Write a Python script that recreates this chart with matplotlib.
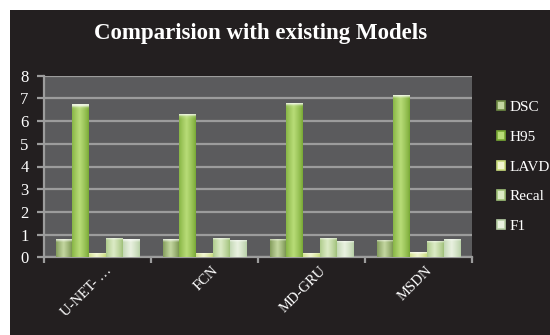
import numpy as np
import matplotlib
matplotlib.use("Agg")
import matplotlib.pyplot as plt
from matplotlib.patches import Rectangle, Patch
from matplotlib.colors import to_rgb

# model comparison scores
models = ["U-NET- \u2026", "FCN", "MD-GRU", "MSDN"]
metrics = ["DSC", "H95", "LAVD", "Recal", "F1"]
dsc = [0.79, 0.79, 0.81, 0.77]
h95 = [6.74, 6.31, 6.81, 7.16]
lavd = [0.20, 0.20, 0.18, 0.22]
recall = [0.86, 0.84, 0.84, 0.74]
f1 = [0.79, 0.77, 0.74, 0.81]
series = [dsc, h95, lavd, recall, f1]

# (edge colour, centre colour) for each metric's bars
shades = [("#6e8a44", "#c3d6a0"),
          ("#78a834", "#b8dc78"),
          ("#c9dc7c", "#f2f6d0"),
          ("#9fc078", "#dcebc6"),
          ("#b7cfa6", "#e9f1e0")]

plt.rcParams["font.family"] = ["Liberation Serif", "DejaVu Serif"]

fig = plt.figure(figsize=(5.5, 3.35), dpi=100)
fig.patch.set_facecolor("white")
fig.add_artist(Rectangle((10 / 550, 0), 1, 1 - 10 / 335, transform=fig.transFigure,
                         facecolor="#231f20", edgecolor="none", zorder=0))

ax = fig.add_axes([44 / 550, 1 - 257.3 / 335, 428 / 550, 181.6 / 335])
ax.set_facecolor("#5b5b5d")
ax.set_xlim(0, len(models))
ax.set_ylim(0, 8)

grid_c = "#9c9c9c"
ax.set_yticks(range(9))
ax.yaxis.grid(True, color=grid_c, linewidth=1.6)
ax.set_axisbelow(True)
for s in ["top", "right"]:
    ax.spines[s].set_visible(False)
for s in ["left", "bottom"]:
    ax.spines[s].set_color(grid_c)
    ax.spines[s].set_linewidth(1.6)

ax.set_xticks(range(len(models) + 1))
ax.set_xticklabels([])
ax.set_xticks(np.arange(len(models)) + 0.57, minor=True)
ax.set_xticklabels(models, minor=True, rotation=45, ha="right", va="top",
                   rotation_mode="anchor", color="white", fontsize=10.5)
ax.tick_params(axis="x", which="minor", length=0, pad=5)
ax.tick_params(axis="x", which="major", length=4, color=grid_c, width=1.6)
ax.tick_params(axis="y", length=5, color=grid_c, width=1.6, labelcolor="white",
               labelsize=12, pad=6)

# horizontal shading profile of a bar
xs = np.linspace(0, 1, 40)
profile = np.clip(1 - np.abs(xs - 0.45) / 0.55, 0, 1) ** 0.8

width = 0.154
offsets = (np.arange(len(metrics)) - 2) * (width + 0.003)
centers = np.arange(len(models)) + 0.5
for k, vals in enumerate(series):
    edge, mid = np.array(to_rgb(shades[k][0])), np.array(to_rgb(shades[k][1]))
    bars = ax.bar(centers + offsets[k], vals, width, color=edge, zorder=2,
                  edgecolor="none")
    for b, v in zip(bars, vals):
        ny = 60
        ys = np.linspace(0, 1, ny)[:, None]
        img = edge + profile[None, :, None] * (mid - edge)
        img = np.repeat(img, ny, axis=0)
        # bright bevel along the top of each bar
        cap = min(0.13 / v, 0.45)
        glow = np.clip((ys - (1 - cap)) / cap, 0, 1)[:, :, None]
        img = img + glow * 0.8 * (1 - img)
        x0 = b.get_x()
        im = ax.imshow(img, extent=[x0, x0 + width, 0, v], origin="lower",
                       aspect="auto", zorder=3, interpolation="bilinear")
        im.set_clip_path(b)

ax.set_xlim(0, len(models))
ax.set_ylim(0, 8)

fig.text(0.473, 0.899, "Comparision with existing Models", ha="center",
         va="center", color="white", fontsize=16.5, fontweight="bold",
         family=["Liberation Serif"])

handles = [Patch(facecolor=shades[k][1], edgecolor=shades[k][0], linewidth=1.2)
           for k in range(len(metrics))]
leg = fig.legend(handles, metrics, loc="upper left", bbox_to_anchor=(497 / 550, 1 - 101 / 335),
                 frameon=False, labelcolor="white", fontsize=11, handlelength=0.55,
                 handleheight=0.55, handletextpad=0.25, labelspacing=1.1,
                 borderaxespad=0, borderpad=0)

fig.savefig("out.png", dpi=100, facecolor="white")
